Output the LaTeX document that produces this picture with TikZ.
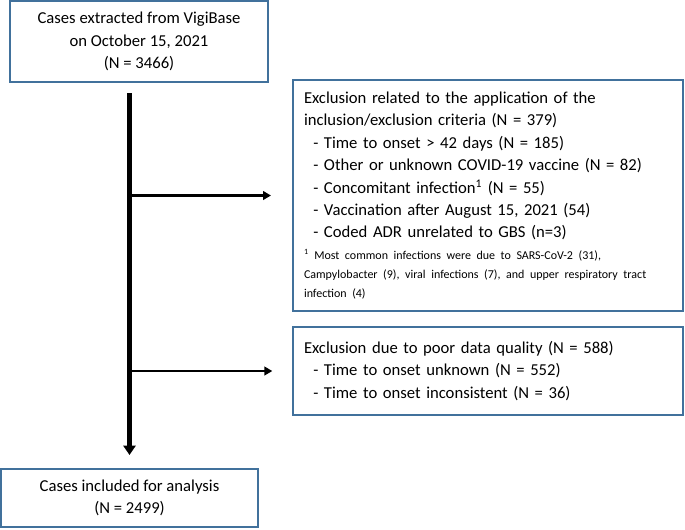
\documentclass[tikz,border=0pt]{standalone}
\usepackage{fontspec}
\setmainfont{Carlito}
\usetikzlibrary{arrows.meta}
\definecolor{boxblue}{RGB}{65,113,156}

\begin{document}
\begin{tikzpicture}[x=0.75pt, y=-0.75pt,
    box/.style={draw=boxblue, line width=1pt, rectangle, inner sep=0pt},
    stage/.style={box, align=center, font=\fontsize{12.5}{16.8}\selectfont},
    excl/.style={box, align=left, text width=276pt, font=\fontsize{12.5}{16.8}\selectfont},
    trunk/.style={line width=3.5pt, -{Triangle[length=7pt, width=9pt]}},
    branch/.style={line width=1.8pt, -{Triangle[length=6pt, width=6.5pt]}}]
    \useasboundingbox (0,0) rectangle (685,529);

    % cases kept along the flow
    \node[stage, minimum width=193.5pt, minimum height=60.75pt] (extract) at (139,41.5) {Cases extracted from VigiBase\\on October 15, 2021\\(N = 3466)};
    \node[stage, minimum width=192.75pt, minimum height=43.5pt] (incl) at (129.5,498) {Cases included for analysis\\(N = 2499)};

    % excluded cases
    \node[excl, minimum width=292.5pt, minimum height=173.25pt] (critexcl) at (488,195.5) {Exclusion related to the application of the\\
        inclusion/exclusion criteria (N = 379)\\
        \hspace*{7pt}- Time to onset > 42 days (N = 185)\\
        \hspace*{7pt}- Other or unknown COVID-19 vaccine (N = 82)\\
        \hspace*{7pt}- Concomitant infection\textsuperscript{1} (N = 55)\\
        \hspace*{7pt}- Vaccination after August 15, 2021 (54)\\
        \hspace*{7pt}- Coded ADR unrelated to GBS (n=3)\par
        \vspace{2pt}{\fontsize{9}{14.2}\selectfont \mbox{\textsuperscript{1} Most common infections were due to SARS-CoV-2 (31),}\\
        \mbox{Campylobacter (9), viral infections (7), and upper respiratory tract}\\
        infection (4)\par}};
    \node[excl, minimum width=292.5pt, minimum height=66pt] (qualexcl) at (488,371) {Exclusion due to poor data quality (N = 588)\\
        \hspace*{7pt}- Time to onset unknown (N = 552)\\
        \hspace*{7pt}- Time to onset inconsistent (N = 36)};

    \draw[trunk, shorten <=8pt, shorten >=10pt] (extract.south -| incl.north) -- (incl.north);
    \draw[branch, shorten >=16pt] (critexcl.west -| incl.north) -- (critexcl.west);
    \draw[branch, shorten >=15pt] (qualexcl.west -| incl.north) -- (qualexcl.west);
\end{tikzpicture}
\end{document}
